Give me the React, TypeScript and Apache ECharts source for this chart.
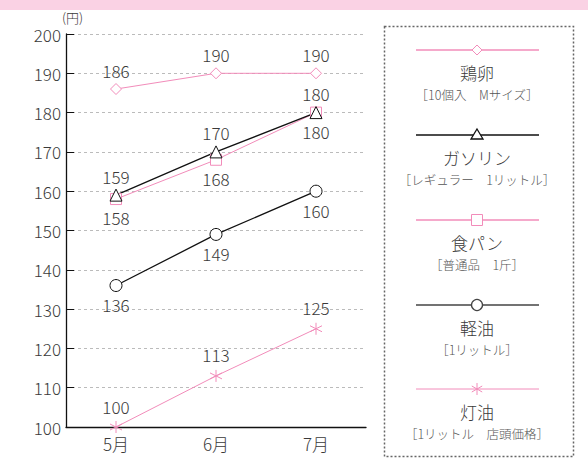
import React, { useEffect, useRef } from "react";
import * as echarts from "echarts";

const categories = ["5月", "6月", "7月"];
const eggs = [186, 190, 190];
const gasoline = [159, 170, 180];
const bread = [158, 168, 180];
const diesel = [136, 149, 160];
const kerosene = [100, 113, 125];
const legendNames = ["鶏卵", "ガソリン", "食パン", "軽油", "灯油"];
const legendSubs = [
  "［10個入　Mサイズ］",
  "［レギュラー　1リットル］",
  "［普通品　1斤］",
  "［1リットル］",
  "［1リットル　店頭価格］",
];

const PINK = "#f28cba";
const BLACK = "#111";
const TEXT = "#3a3a3a";
const FONT = "'Noto Sans CJK JP', 'Noto Sans', sans-serif";
const ASTER = "path://M0,-10L0,10M-8.66,-5L8.66,5M-8.66,5L8.66,-5";

export default function App() {
  const ref = useRef<HTMLDivElement>(null);
  useEffect(() => {
    const chart = echarts.init(ref.current!, null, { renderer: "svg" });
    const lbl = (pos: string) => ({
      show: true,
      position: pos,
      distance: 4,
      color: TEXT,
      fontSize: 17,
      fontWeight: 300,
      fontFamily: FONT,
    });
    const mk = (name: string, data: number[], color: string, symbol: string, size: number, pos: string, bw = 1) => ({
      name,
      type: "line",
      data,
      symbol,
      symbolSize: size,
      clip: false,
      lineStyle: { color, width: bw },
      itemStyle: { color: "#fff", borderColor: color, borderWidth: 1 },
      label: lbl(pos),
    });
    const legendYs = [50, 135, 220, 305, 389];
    const colors = [PINK, BLACK, PINK, "#444", PINK];
    const graphics: any[] = [
      { type: "rect", shape: { x: 0, y: 0, width: 588, height: 10 }, style: { fill: "#fad2e4" } },
      { type: "text", x: 62, y: 11, style: { text: "(円)", fill: TEXT, fontSize: 13, fontWeight: 300, fontFamily: FONT } },
      {
        type: "rect",
        shape: { x: 384.5, y: 26.5, width: 189, height: 430 },
        style: { fill: "none", stroke: "#666", lineWidth: 1.5, lineDash: [2, 2] },
      },
    ];
    legendYs.forEach((y, i) => {
      const c = colors[i];
      graphics.push({ type: "line", shape: { x1: 416, y1: y, x2: 539, y2: y }, style: { stroke: c, lineWidth: i === 4 ? 1 : 1.3 } });
      const cx = 477;
      if (i === 0) graphics.push({ type: "polygon", shape: { points: [[cx, y - 5], [cx + 5, y], [cx, y + 5], [cx - 5, y]] }, style: { fill: "#fff", stroke: c } });
      if (i === 1) graphics.push({ type: "polygon", shape: { points: [[cx, y - 6], [cx + 6, y + 4], [cx - 6, y + 4]] }, style: { fill: "#fff", stroke: c, lineWidth: 1.3 } });
      if (i === 2) graphics.push({ type: "rect", shape: { x: cx - 5.5, y: y - 5.5, width: 11, height: 11 }, style: { fill: "#fff", stroke: c } });
      if (i === 3) graphics.push({ type: "circle", shape: { cx, cy: y, r: 5.5 }, style: { fill: "#fff", stroke: c, lineWidth: 1.3 } });
      if (i === 4) {
        [[0, -6, 0, 6], [-5.2, -3, 5.2, 3], [-5.2, 3, 5.2, -3]].forEach((s) =>
          graphics.push({ type: "line", shape: { x1: cx + s[0], y1: y + s[1], x2: cx + s[2], y2: y + s[3] }, style: { stroke: c, lineWidth: 1 } })
        );
      }
      graphics.push({
        type: "text", x: cx, y: y + 22,
        style: { text: legendNames[i], fill: TEXT, fontSize: 17, fontWeight: 300, fontFamily: FONT, align: "center", verticalAlign: "middle", lineHeight: 17 },
      });
      graphics.push({
        type: "text", x: cx, y: y + 44,
        style: { text: legendSubs[i], fill: "#555", fontSize: 12.5, fontWeight: 300, fontFamily: FONT, align: "center", verticalAlign: "middle", lineHeight: 12.5 },
      });
    });
    chart.setOption({
      animation: false,
      grid: { left: 66, right: 222, top: 34, bottom: 34, containLabel: false },
      xAxis: {
        type: "category",
        data: categories,
        boundaryGap: true,
        axisLine: { lineStyle: { color: BLACK, width: 1.3 } },
        axisTick: { inside: true, length: 9, lineStyle: { color: BLACK } },
        axisLabel: { color: TEXT, fontSize: 17, fontWeight: 300, fontFamily: FONT, margin: 8 },
      },
      yAxis: {
        type: "value",
        min: 100,
        max: 200,
        interval: 10,
        axisLine: { show: true, lineStyle: { color: BLACK, width: 1.3 } },
        axisTick: { show: true, inside: true, length: 8, lineStyle: { color: BLACK } },
        axisLabel: { color: TEXT, fontSize: 17, fontWeight: 300, fontFamily: FONT, margin: 5 },
        splitLine: { lineStyle: { color: "#bbb", type: [3, 3] } },
      },
      series: [
        mk("鶏卵", eggs, PINK, "diamond", 11, "top"),
        mk("食パン", bread, PINK, "rect", 11, "bottom"),
        mk("ガソリン", gasoline, BLACK, "triangle", 12, "top", 1.3),
        mk("軽油", diesel, BLACK, "circle", 12, "bottom", 1.3),
        { ...mk("灯油", kerosene, PINK, ASTER, 12, "top"), itemStyle: { color: "none", borderColor: PINK, borderWidth: 1 } },
      ],
      graphic: graphics,
    });
    return () => chart.dispose();
  }, []);
  return <div ref={ref} style={{ width: 588, height: 461, position: "absolute", left: 0, top: 0 }} />;
}
